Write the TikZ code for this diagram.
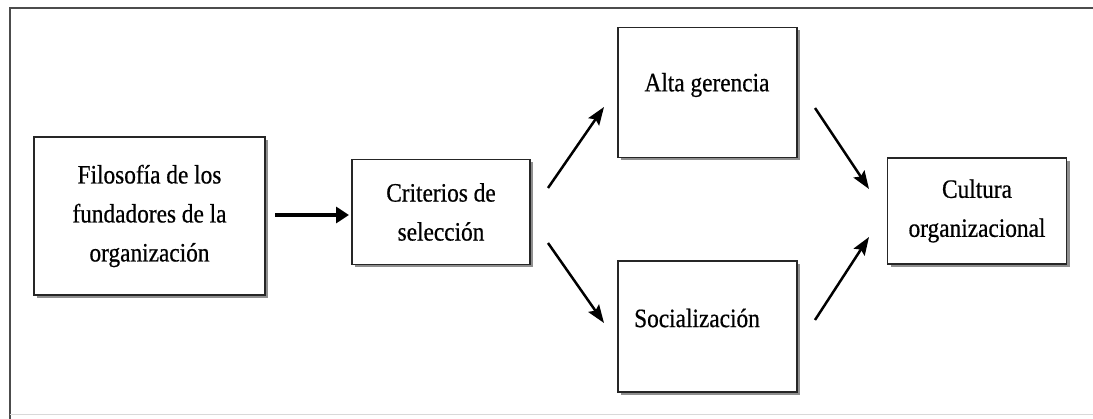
\documentclass[tikz,border=0pt]{standalone}
\usepackage{fontspec}
\setmainfont{Liberation Serif}[FakeStretch=0.88,FakeBold=0.6]
\usetikzlibrary{shadows,arrows.meta}
\tikzset{
  box/.style={draw=black!85, line width=1.4pt, fill=white,
    drop shadow={shadow xshift=3pt, shadow yshift=-3pt, fill=black!55, opacity=0.8},
    inner sep=0pt, align=center, font=\fontsize{26.5}{39}\selectfont},
  lbl/.style={inner sep=0pt, align=center, font=\fontsize{26.5}{39}\selectfont},
  bigarrow/.style={line width=3.8pt, -{Triangle[length=13pt,width=16pt]}},
  arr/.style={line width=2.5pt, -{Stealth[length=18pt,width=13pt,inset=3pt]}}
}
\begin{document}
\begin{tikzpicture}[x=1pt,y=-1pt]
\useasboundingbox (0,0) rectangle (1093,419);
\fill[white] (0,0) rectangle (1093,419);
% frame
\coordinate (fr1) at (10,419);
\coordinate (fr2) at (10,8);
\coordinate (fr3) at (1093,8);
\coordinate (fr4) at (10,415);
\coordinate (fr5) at (1093,415);
\draw[black!70, line width=2pt] (fr1) -- (fr2) -- (fr3);
\draw[black!15, line width=1pt] (fr4) -- (fr5);
% boxes
\node[box, minimum width=231pt, minimum height=158pt] (fil) at (149.5,216) {Filosofía de los\\fundadores de la\\organización};
\node[box, minimum width=178pt, minimum height=105pt] (cri) at (441,212) {Criterios de\\selección};
\node[box, minimum width=179pt, minimum height=130pt] (alta) at (707.5,92.5) {};
\node[lbl] (altat) at (707,85) {Alta gerencia};
\node[box, minimum width=179pt, minimum height=131pt] (soc) at (707.5,326.5) {};
\node[lbl] (soct) at (697,318) {Socialización};
\node[box, minimum width=179pt, minimum height=106pt] (cul) at (977,211) {Cultura\\organizacional};
% arrow end points
\coordinate (a1s) at (275,215);
\coordinate (a1e) at (349,215);
\coordinate (a2s) at (548,188);
\coordinate (a2e) at (604,107);
\coordinate (a3s) at (548,243);
\coordinate (a3e) at (604,323);
\coordinate (a4s) at (815,108);
\coordinate (a4e) at (869,189);
\coordinate (a5s) at (815,320);
\coordinate (a5e) at (869,237);
\draw[bigarrow] (a1s) -- (a1e);
\draw[arr] (a2s) -- (a2e);
\draw[arr] (a3s) -- (a3e);
\draw[arr] (a4s) -- (a4e);
\draw[arr] (a5s) -- (a5e);
\end{tikzpicture}
\end{document}
